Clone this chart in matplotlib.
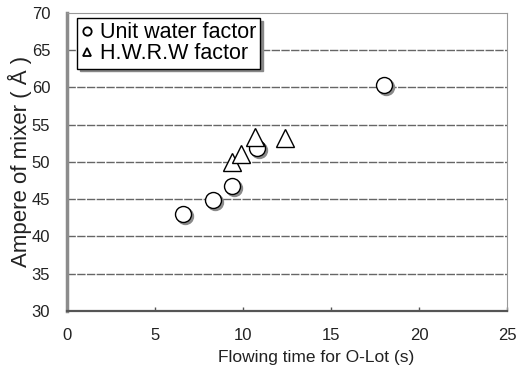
import numpy as np
import matplotlib
matplotlib.use("Agg")
import matplotlib.pyplot as plt
from matplotlib.transforms import offset_copy

plt.rcParams['font.family'] = ['Liberation Sans', 'DejaVu Sans']

# flowing time (s) vs mixer ampere
unit_time = [6.6, 8.3, 9.4, 10.8, 18.0]
unit_amp = [43.0, 44.9, 46.8, 51.9, 60.3]

hwrw_time = [9.4, 9.9, 10.7, 12.4]
hwrw_amp = [50.0, 51.1, 53.3, 53.2]

x_ticks = [0, 5, 10, 15, 20, 25]
y_ticks = [30, 35, 40, 45, 50, 55, 60, 65, 70]

fig = plt.figure(figsize=(5.18, 3.81), dpi=100)
ax = fig.add_axes([0.129, 0.184, 0.850, 0.782])

ax.set_xlim(0, 25)
ax.set_ylim(30, 70)
ax.set_xticks(x_ticks)
ax.set_yticks(y_ticks)

for y in y_ticks[1:-1]:
    ax.axhline(y, color='#666666', lw=1.0, ls=(0, (6, 1)), zorder=1)

# circles with a grey drop shadow
shadow = offset_copy(ax.transData, fig=fig, x=1.5, y=-1.5, units='points')
ax.plot(unit_time, unit_amp, 'o', ms=11.5, mfc='#8a8a8a', mec='#8a8a8a',
        transform=shadow, zorder=3)
ax.plot(unit_time, unit_amp, 'o', ms=11.5, mfc='white', mec='black', mew=1.0,
        zorder=4)
ax.plot(hwrw_time, hwrw_amp, '^', ms=12.5, mfc='white', mec='black', mew=1.0,
        zorder=5)

# legend entries
ax.plot([], [], 'o', ms=6, mfc='none', mec='black', mew=1.3, label='Unit water factor')
ax.plot([], [], '^', ms=6, mfc='none', mec='black', mew=1.3, label='H.W.R.W factor')
leg = ax.legend(loc='upper left', bbox_to_anchor=(0.023, 0.983), fontsize=15.5,
                frameon=True, fancybox=False, shadow={'color': '#888888', 'alpha': 1},
                handlelength=0.5, handletextpad=0.35, borderpad=0.2,
                labelspacing=0.0, borderaxespad=0)
leg.get_frame().set_edgecolor('black')
leg.get_frame().set_linewidth(1.0)
leg.set_zorder(6)

ax.spines['left'].set_color('#8c8c8c')
ax.spines['left'].set_linewidth(2.5)
ax.spines['bottom'].set_color('#555555')
ax.spines['bottom'].set_linewidth(1.6)
for s in ['top', 'right']:
    ax.spines[s].set_color('#999999')
    ax.spines[s].set_linewidth(0.8)
    ax.spines[s].set_linestyle((0, (1, 1)))

ax.tick_params(axis='x', direction='in', length=3, width=1, color='#555555',
               labelsize=12, pad=12, labelcolor='#222222')
ax.tick_params(axis='y', length=0, labelsize=12, pad=12, labelcolor='#222222')

ax.set_xlabel('Flowing time for O-Lot (s)', fontsize=12.5, color='#222222')
ax.xaxis.set_label_coords(0.566, -0.13)
ax.set_ylabel('Ampere of mixer ( Å )', fontsize=16, color='#222222')
ax.yaxis.set_label_coords(-0.079, 0.5)

fig.savefig('out.png', dpi=100)
